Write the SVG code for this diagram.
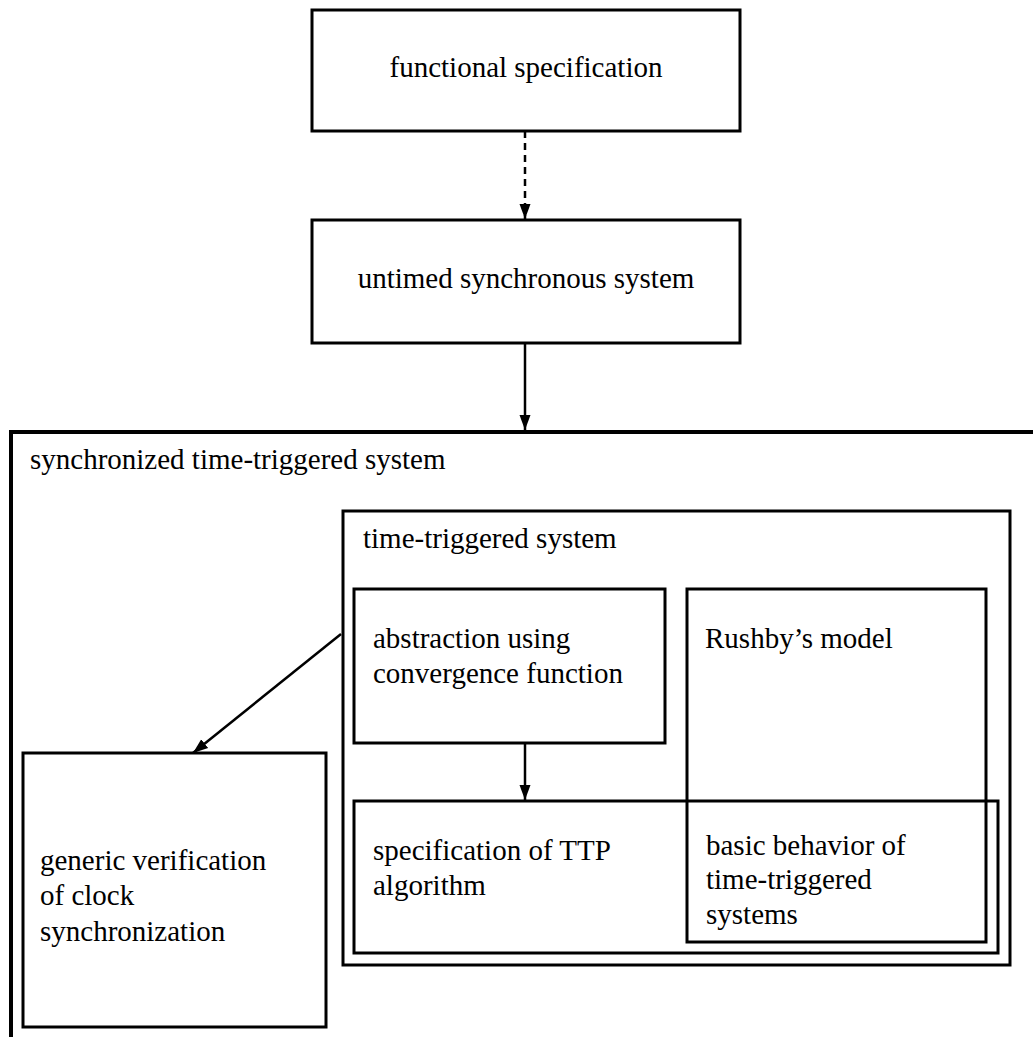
<svg xmlns="http://www.w3.org/2000/svg" width="1033" height="1037" viewBox="0 0 1033 1037">
<style>
.box{fill:none;stroke:#000;stroke-width:3}
.outer{fill:none;stroke:#000;stroke-width:4}
.t{font-family:"Liberation Serif","Times New Roman",serif;font-size:29px;fill:#000}
.c{fill:none;stroke:#000;stroke-width:2.5}
</style>
<defs>
<marker id="ah" markerUnits="userSpaceOnUse" markerWidth="16" markerHeight="14" refX="15" refY="7" orient="auto">
<path d="M0,1.5 L15,7 L0,12.5 Z" fill="#000"/>
</marker>
</defs>
<g id="n-outer">
<polyline class="outer" points="11,1040 11,432 1040,432"/>
<text class="t" x="30" y="469">synchronized time-triggered system</text>
</g>
<g id="n-functional">
<rect class="box" x="312" y="10" width="428" height="121"/>
<text class="t" x="526" y="77" text-anchor="middle">functional specification</text>
</g>
<g id="n-untimed">
<rect class="box" x="312" y="220" width="428" height="123"/>
<text class="t" x="526" y="288" text-anchor="middle">untimed synchronous system</text>
</g>
<g id="n-tts">
<rect class="box" x="343" y="511" width="667" height="454"/>
<text class="t" x="363" y="548">time-triggered system</text>
</g>
<g id="n-abstraction">
<rect class="box" x="354" y="589" width="311" height="154"/>
<text class="t" x="373" y="648">abstraction using</text>
<text class="t" x="373" y="683">convergence function</text>
</g>
<g id="n-rushby">
<rect class="box" x="687" y="589" width="299" height="353"/>
<text class="t" x="705" y="648">Rushby’s model</text>
</g>
<g id="n-spec">
<rect class="box" x="354" y="801" width="644" height="152"/>
<text class="t" x="373" y="860">specification of TTP</text>
<text class="t" x="373" y="895">algorithm</text>
</g>
<g id="n-basic">
<text class="t" x="706" y="855">basic behavior of</text>
<text class="t" x="706" y="889">time-triggered</text>
<text class="t" x="706" y="924">systems</text>
</g>
<g id="n-generic">
<rect class="box" x="23" y="753" width="303" height="274"/>
<text class="t" x="40" y="870">generic verification</text>
<text class="t" x="40" y="905">of clock</text>
<text class="t" x="40" y="941">synchronization</text>
</g>
<g id="connectors">
<line class="c" x1="525" y1="131" x2="525" y2="219" stroke-dasharray="7,5" marker-end="url(#ah)"/>
<line class="c" x1="525" y1="343" x2="525" y2="430" marker-end="url(#ah)"/>
<line class="c" x1="525" y1="743" x2="525" y2="800" marker-end="url(#ah)"/>
<line class="c" x1="341" y1="634" x2="193" y2="753" stroke-width="2" marker-end="url(#ah)"/>
</g>
</svg>
